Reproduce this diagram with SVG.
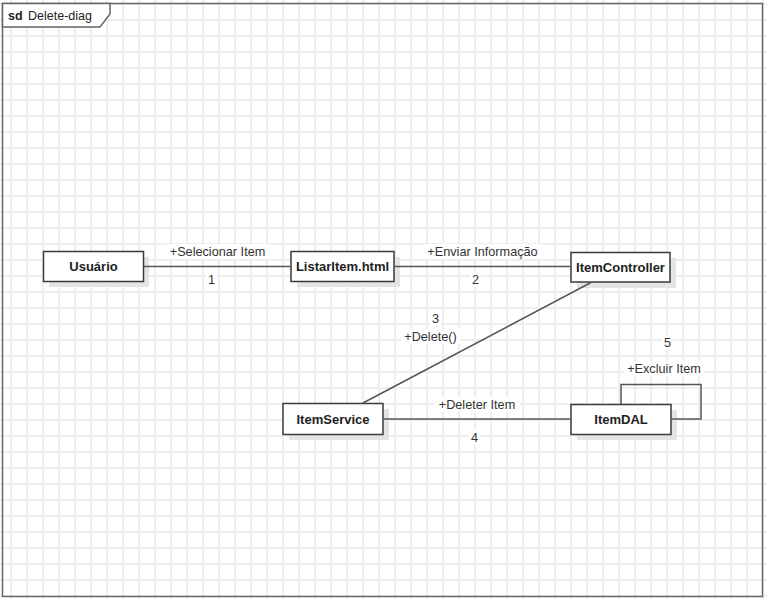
<svg xmlns="http://www.w3.org/2000/svg" width="767" height="599" viewBox="0 0 767 599">
  <defs>
    <pattern id="grid" patternUnits="userSpaceOnUse" x="3" y="-4" width="16" height="16">
      <path d="M8,0 V16 M0,8 H16" stroke="#eeeeee" stroke-width="2" fill="none"/>
    </pattern>
    <style>
      .node rect.box { fill: #ffffff; stroke: #3a3a3a; stroke-width: 1.5; }
      .node rect.shadow { fill: #e4e4e4; }
      .node text { font-family: "Liberation Sans", Arial, sans-serif; font-size: 13px; font-weight: bold; fill: #222; text-anchor: middle; }
      .edge { stroke: #555; stroke-width: 1.5; fill: none; }
      .lbl { font-family: "Liberation Sans", Arial, sans-serif; font-size: 12.7px; fill: #333; text-anchor: middle; }
      .lblbg { fill: #ffffff; }
    </style>
  </defs>
  <rect x="0" y="0" width="767" height="599" fill="#ffffff"/>
  <rect x="0" y="0" width="767" height="599" fill="url(#grid)"/>

  <g id="frame">
    <rect x="2.5" y="3.5" width="760" height="593" fill="none" stroke="#666" stroke-width="1.5"/>
    <path d="M2.5,3.5 H110 V14 L100,27 H2.5 Z" fill="#ffffff" stroke="#666" stroke-width="1.5"/>
    <text x="8" y="19.5" font-family="Liberation Sans, Arial, sans-serif" font-size="12.5" font-weight="bold" fill="#222">sd</text>
    <text x="28" y="19.5" font-family="Liberation Sans, Arial, sans-serif" font-size="12.5" fill="#222">Delete-diag</text>
  </g>

  <g id="usuario" class="node">
    <rect class="shadow" x="49" y="257" width="100" height="30"/>
    <rect class="box" x="43.5" y="251.5" width="100" height="30"/>
    <text x="93.5" y="271">Usuário</text>
  </g>
  <g id="listaritem" class="node">
    <rect class="shadow" x="297" y="257" width="103" height="30"/>
    <rect class="box" x="291" y="251.5" width="103" height="30"/>
    <text x="342.5" y="271">ListarItem.html</text>
  </g>
  <g id="itemcontroller" class="node">
    <rect class="shadow" x="577" y="258" width="99" height="30"/>
    <rect class="box" x="571" y="252.5" width="99" height="29.5"/>
    <text x="620.5" y="271.5">ItemController</text>
  </g>
  <g id="itemservice" class="node">
    <rect class="shadow" x="289" y="409" width="100" height="31"/>
    <rect class="box" x="283" y="403.5" width="100" height="31"/>
    <text x="333" y="423.5">ItemService</text>
  </g>
  <g id="itemdal" class="node">
    <rect class="shadow" x="577" y="410" width="100" height="30"/>
    <rect class="box" x="571" y="404.5" width="100" height="30"/>
    <text x="621" y="424">ItemDAL</text>
  </g>

  <g id="connectors">
    <line class="edge" x1="144" y1="266.5" x2="290.5" y2="266.5"/>
    <line class="edge" x1="394.5" y1="266.5" x2="570.5" y2="266.5"/>
    <line class="edge" x1="591" y1="282.5" x2="363" y2="403"/>
    <line class="edge" x1="383.5" y1="419" x2="570.5" y2="419"/>
    <path class="edge" d="M621,404 V384.5 H701 V419 H671.5"/>
  </g>

  <g id="labels">
    <rect class="lblbg" x="166" y="244" width="103" height="15"/>
    <text class="lbl" x="217.5" y="256">+Selecionar Item</text>
    <rect class="lblbg" x="206" y="272" width="11" height="15"/>
    <text class="lbl" x="211.5" y="283.5">1</text>
    <rect class="lblbg" x="424" y="244" width="117" height="15"/>
    <text class="lbl" x="482.5" y="256">+Enviar Informação</text>
    <rect class="lblbg" x="470" y="272" width="11" height="15"/>
    <text class="lbl" x="475.5" y="283.5">2</text>
    <rect class="lblbg" x="430" y="311" width="11" height="15"/>
    <text class="lbl" x="435.5" y="322.5">3</text>
    <rect class="lblbg" x="401" y="329" width="59" height="15"/>
    <text class="lbl" x="430.5" y="341">+Delete()</text>
    <rect class="lblbg" x="434" y="397" width="86" height="15"/>
    <text class="lbl" x="477" y="408.5">+Deleter Item</text>
    <rect class="lblbg" x="469" y="430" width="11" height="15"/>
    <text class="lbl" x="474.5" y="441.5">4</text>
    <rect class="lblbg" x="662" y="335" width="11" height="15"/>
    <text class="lbl" x="667.5" y="346.5">5</text>
    <rect class="lblbg" x="624" y="361" width="80" height="15"/>
    <text class="lbl" x="664" y="373">+Excluir Item</text>
  </g>
</svg>
